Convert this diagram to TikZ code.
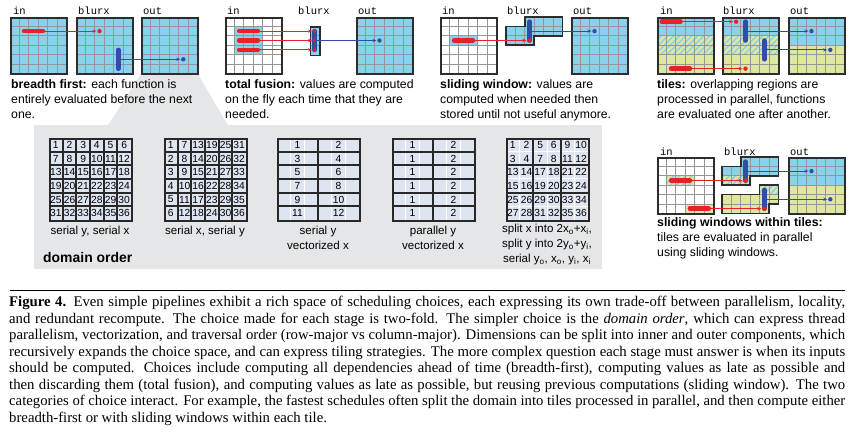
\documentclass[tikz,border=0pt]{standalone}
\usepackage{fontspec}
\setmainfont{Liberation Serif}
\setsansfont{Liberation Sans}
\setmonofont{Liberation Mono}
\usetikzlibrary{arrows.meta}
\definecolor{cblue}{RGB}{138,210,235}
\definecolor{cyellow}{RGB}{222,230,160}
\definecolor{cgrid}{RGB}{150,150,150}
\definecolor{cborder}{RGB}{45,45,45}
\definecolor{cred}{RGB}{232,32,42}
\definecolor{cdblue}{RGB}{48,78,168}
\definecolor{cpanel}{RGB}{229,230,231}
\definecolor{ccell}{RGB}{222,229,240}
\definecolor{cdark}{RGB}{40,40,40}
\tikzset{
 gridline/.style={cgrid, line width=0.9bp},
 gridbox/.style={draw=cborder, line width=1.6bp, rectangle, minimum width=56.4bp, minimum height=56.4bp, inner sep=0, anchor=north west},
 shapeborder/.style={draw=cborder, line width=1.6bp, line join=miter},
 redbar/.style={cred, line width=4.6bp, line cap=round},
 bluebar/.style={cdblue, line width=4.6bp, line cap=round},
 redlink/.style={cred, line width=1bp, -{Stealth[length=4bp,width=3.2bp]}, shorten >=0.6bp},
 bluelink/.style={cdblue, line width=1bp, -{Stealth[length=4bp,width=3.2bp]}, shorten >=0.6bp},
 reddot/.style={circle, fill=cred, inner sep=0, minimum size=4.4bp},
 bluedot/.style={circle, fill=cdblue, inner sep=0, minimum size=4.4bp},
 lbl/.style={font=\fontsize{10.5}{12}\ttfamily, anchor=base west, inner sep=0},
 desc/.style={font=\fontsize{12.3}{15}\sffamily, anchor=base west, inner sep=0},
 dgrid/.style={draw=cdark, line width=2.2bp, rectangle, minimum width=82bp, minimum height=82bp, inner sep=0, anchor=north west},
 dline/.style={cdark, line width=1.8bp},
 wline/.style={white, line width=1bp},
 num/.style={font=\fontsize{10.3}{10}\sffamily, inner sep=0, text=black},
 dlabel/.style={font=\fontsize{11.6}{14}\sffamily, anchor=base, inner sep=0},
 capline/.style={font=\fontsize{14.8}{16.45}\selectfont, anchor=base west, inner sep=0}
}
\newcommand{\glines}[2]{\foreach \i in {1,...,5}{\draw[gridline] ({#1+\i*9.4},#2) -- ++(0,56.4); \draw[gridline] (#1,{#2+\i*9.4}) -- ++(56.4,0);}}
\newcommand{\hatchrect}[4]{%
 \begin{scope}
 \clip (#1,#2) rectangle (#3,#4);
 \fill[cblue] (#1,#2) rectangle (#3,#4);
 \foreach \k in {-5,...,12}{\draw[cyellow, line width=2.4bp] ({#1+\k*6},{#4+1}) -- ++(24,-24);}
 \end{scope}}
\newcommand{\capl}[1]{\makebox[836bp][s]{#1}}
\begin{document}
\begin{tikzpicture}[x=1bp,y=-1bp]
\useasboundingbox (0,0) rectangle (858,434);
\fill[white] (0,0) rectangle (858,434);
% domain-order panel and wedge
\fill[cpanel] (141,73.4) -- (197.4,73.4) -- (228,125.5) -- (108,125.5) -- cycle;
\fill[cpanel] (34,125) rectangle (602,269);

% ---------- panel 1: breadth first
\fill[cblue] (10,17) rectangle ++(56.4,56.4);
\fill[cblue] (76,17) rectangle ++(56.4,56.4);
\fill[cblue] (141,17) rectangle ++(56.4,56.4);
\glines{10}{17}\glines{76}{17}\glines{141}{17}
\node[gridbox] (in1) at (10,17) {};
\node[gridbox] (bx1) at (76,17) {};
\node[gridbox] (out1) at (141,17) {};
\node[lbl] (lin1) at (13,15) {in};
\node[lbl] (lbx1) at (78,15) {blurx};
\node[lbl] (lout1) at (143,15) {out};
\coordinate (r1s) at (24.1,31.1); \coordinate (r1e) at (42.9,31.1);
\draw[redbar] (r1s) -- (r1e);
\node[reddot] (r1d) at (99.5,31.1) {};
\draw[redlink] (r1e) -- (r1d);
\coordinate (b1s) at (118.3,49.9); \coordinate (b1e) at (118.3,68.7); \coordinate (b1m) at (118.3,59.3);
\draw[bluebar] (b1s) -- (b1e);
\node[bluedot] (b1d) at (183.3,59.3) {};
\draw[bluelink] (b1m) -- (b1d);

% ---------- panel 2: total fusion
\fill[cblue] (234.4,26.4) rectangle (262.6,54.6);
\fill[cblue] (356,17) rectangle ++(56.4,56.4);
\fill[cblue] (309.8,26.4) rectangle (319.2,54.6);
\glines{225}{17}\glines{356}{17}
\draw[gridline] (309.8,35.8) -- (319.2,35.8);
\draw[gridline] (309.8,45.2) -- (319.2,45.2);
\node[gridbox] (in2) at (225,17) {};
\node[draw=cborder, line width=1.6bp, rectangle, minimum width=9.4bp, minimum height=28.2bp, inner sep=0, anchor=north west] (bx2) at (309.8,26.4) {};
\node[gridbox] (out2) at (356,17) {};
\node[lbl] (lin2) at (227,15) {in};
\node[lbl] (lbx2) at (298,15) {blurx};
\node[lbl] (lout2) at (358,15) {out};
\foreach \yy/\nm in {31.1/a,40.5/b,49.9/c}{
 \coordinate (r2s\nm) at (239.1,\yy); \coordinate (r2e\nm) at (257.9,\yy);
 \draw[redbar] (r2s\nm) -- (r2e\nm);
 \coordinate (r2t\nm) at (314.5,\yy);
 \draw[redlink, shorten >=2.4bp] (r2e\nm) -- (r2t\nm);
}
\coordinate (b2s) at (314.5,31.1); \coordinate (b2e) at (314.5,49.9); \coordinate (b2m) at (314.5,40.5);
\draw[bluebar] (b2s) -- (b2e);
\foreach \nm in {a,b,c}{\node[reddot, minimum size=3.6bp] (r2d\nm) at (r2t\nm) {};}
\node[bluedot] (b2d) at (379.5,40.5) {};
\draw[bluelink] (b2m) -- (b2d);

% ---------- panel 3: sliding window
\fill[cblue] (449.4,35.8) rectangle (477.6,45.2);
\fill[cblue] (571,17) rectangle ++(56.4,56.4);
\glines{440}{17}\glines{571}{17}
\begin{scope}
 \clip (524.8,17) -- (562.4,17) -- (562.4,35.8) -- (534.2,35.8) -- (534.2,45.2) -- (506,45.2) -- (506,26.4) -- (524.8,26.4) -- cycle;
 \fill[cblue] (506,17) rectangle (562.4,45.2);
 \glines{506}{17}
\end{scope}
\draw[shapeborder] (524.8,17) -- (562.4,17) -- (562.4,35.8) -- (534.2,35.8) -- (534.2,45.2) -- (506,45.2) -- (506,26.4) -- (524.8,26.4) -- cycle;
\node[gridbox] (in3) at (440,17) {};
\node[gridbox] (out3) at (571,17) {};
\node[lbl] (lin3) at (442,15) {in};
\node[lbl] (lbx3) at (507,15) {blurx};
\node[lbl] (lout3) at (573,15) {out};
\coordinate (r3s) at (454.1,40.5); \coordinate (r3e) at (472.9,40.5);
\draw[redbar] (r3s) -- (r3e);
\coordinate (b3s) at (529.5,21.7); \coordinate (b3e) at (529.5,40.5); \coordinate (b3m) at (529.5,31.1);
\draw[bluebar] (b3s) -- (b3e);
\node[reddot] (r3d) at (529.5,40.5) {};
\draw[redlink] (r3e) -- (r3d);
\node[bluedot] (b3d) at (594.5,31.1) {};
\draw[bluelink] (b3m) -- (b3d);

% ---------- panel 4: tiles
\foreach \gx in {657,722}{
 \fill[cblue] (\gx,17) rectangle ({\gx+56.4},35.8);
 \hatchrect{\gx}{35.8}{\gx+56.4}{54.6}
 \fill[cyellow] (\gx,54.6) rectangle ({\gx+56.4},73.4);
 \glines{\gx}{17}
}
\fill[cblue] (788,17) rectangle (844.4,45.2);
\fill[cyellow] (788,45.2) rectangle (844.4,73.4);
\glines{788}{17}
\node[gridbox] (in4) at (657,17) {};
\node[gridbox] (bx4) at (722,17) {};
\node[gridbox] (out4) at (788,17) {};
\node[lbl] (lin4) at (660,15) {in};
\node[lbl] (lbx4) at (723,15) {blurx};
\node[lbl] (lout4) at (790,15) {out};
\coordinate (r4s) at (661.7,21.7); \coordinate (r4e) at (680.5,21.7);
\draw[redbar] (r4s) -- (r4e);
\node[reddot] (r4d) at (736.1,21.7) {};
\draw[redlink] (r4e) -- (r4d);
\coordinate (r4s2) at (671.1,68.7); \coordinate (r4e2) at (689.9,68.7);
\draw[redbar] (r4s2) -- (r4e2);
\node[reddot] (r4d2) at (745.5,68.7) {};
\draw[redlink] (r4e2) -- (r4d2);
\coordinate (b4s) at (745.5,21.7); \coordinate (b4e) at (745.5,40.5); \coordinate (b4m) at (745.5,31.1);
\draw[bluebar] (b4s) -- (b4e);
\node[bluedot] (b4d) at (811.5,31.1) {};
\draw[bluelink] (b4m) -- (b4d);
\coordinate (b4s2) at (764.3,40.5); \coordinate (b4e2) at (764.3,59.3); \coordinate (b4m2) at (764.3,49.9);
\draw[bluebar] (b4s2) -- (b4e2);
\node[bluedot] (b4d2) at (830.3,49.9) {};
\draw[bluelink] (b4m2) -- (b4d2);

% ---------- panel 5: sliding windows within tiles
\hatchrect{666.4}{175.8}{694.6}{185.2}
\fill[cyellow] (685.2,204) rectangle (713.4,213.4);
\glines{657}{157}
\fill[cblue] (788,157) rectangle (844.4,185.2);
\fill[cyellow] (788,185.2) rectangle (844.4,213.4);
\glines{788}{157}
\begin{scope}
 \clip (740.8,157) -- (778.4,157) -- (778.4,175.8) -- (750.2,175.8) -- (750.2,185.2) -- (722,185.2) -- (722,166.4) -- (740.8,166.4) -- cycle;
 \fill[cblue] (722,157) rectangle (778.4,185.2);
 \hatchrect{722}{175.8}{750.2}{185.2}
 \glines{722}{157}
\end{scope}
\draw[shapeborder] (740.8,157) -- (778.4,157) -- (778.4,175.8) -- (750.2,175.8) -- (750.2,185.2) -- (722,185.2) -- (722,166.4) -- (740.8,166.4) -- cycle;
\begin{scope}
 \clip (759.6,185.2) -- (778.4,185.2) -- (778.4,204) -- (769,204) -- (769,213.4) -- (722,213.4) -- (722,194.6) -- (759.6,194.6) -- cycle;
 \fill[cyellow] (722,185.2) rectangle (778.4,213.4);
 \hatchrect{759.6}{185.2}{778.4}{194.6}
 \glines{722}{157}
\end{scope}
\draw[shapeborder] (759.6,185.2) -- (778.4,185.2) -- (778.4,204) -- (769,204) -- (769,213.4) -- (722,213.4) -- (722,194.6) -- (759.6,194.6) -- cycle;
\node[gridbox] (in5) at (657,157) {};
\node[gridbox] (out5) at (788,157) {};
\node[lbl] (lin5) at (660,155.3) {in};
\node[lbl] (lbx5) at (724,155.3) {blurx};
\node[lbl] (lout5) at (790,155.3) {out};
\coordinate (r5s) at (671.1,180.5); \coordinate (r5e) at (689.9,180.5);
\draw[redbar] (r5s) -- (r5e);
\coordinate (r5s2) at (689.9,208.7); \coordinate (r5e2) at (708.7,208.7);
\draw[redbar] (r5s2) -- (r5e2);
\coordinate (b5s) at (745.5,161.7); \coordinate (b5e) at (745.5,180.5); \coordinate (b5m) at (745.5,171.1);
\draw[bluebar] (b5s) -- (b5e);
\coordinate (b5s2) at (764.3,189.9); \coordinate (b5e2) at (764.3,208.7); \coordinate (b5m2) at (764.3,199.3);
\draw[bluebar] (b5s2) -- (b5e2);
\node[reddot] (r5d) at (745.5,180.5) {};
\node[reddot] (r5d2) at (764.3,208.7) {};
\draw[redlink] (r5e) -- (r5d);
\draw[redlink] (r5e2) -- (r5d2);
\node[bluedot] (b5d) at (811.5,171.1) {};
\node[bluedot] (b5d2) at (830.3,199.3) {};
\draw[bluelink] (b5m) -- (b5d);
\draw[bluelink] (b5m2) -- (b5d2);

% ---------- descriptions
\node[desc] (t1a) at (11,88.5) {\textbf{breadth first:} each function is};
\node[desc] (t1b) at (11,103.5) {entirely evaluated before the next};
\node[desc] (t1c) at (11,118.5) {one.};
\node[desc] (t2a) at (225,88.5) {\textbf{total fusion:} values are computed};
\node[desc] (t2b) at (225,103.5) {on the fly each time that they are};
\node[desc] (t2c) at (225,118.5) {needed.};
\node[desc] (t3a) at (440,88.5) {\textbf{sliding window:} values are};
\node[desc] (t3b) at (440,103.5) {computed when needed then};
\node[desc] (t3c) at (440,118.5) {stored until not useful anymore.};
\node[desc] (t4a) at (657,88.5) {\textbf{tiles:} overlapping regions are};
\node[desc] (t4b) at (657,103.5) {processed in parallel, functions};
\node[desc] (t4c) at (657,118.5) {are evaluated one after another.};
\node[desc] (t5a) at (657,226.5) {\textbf{sliding windows within tiles:}};
\node[desc] (t5b) at (657,241.5) {tiles are evaluated in parallel};
\node[desc] (t5c) at (657,256.5) {using sliding windows.};

% ---------- domain order grids
\foreach \gx in {49,164,277,392,506}{\fill[ccell] (\gx,138) rectangle ++(82,82);}
% grid 1 and 2
\foreach \gx in {49,164}{\foreach \i in {1,...,5}{
 \draw[dline] ({\gx+\i*13.667},138) -- ++(0,82);
 \draw[dline] (\gx,{138+\i*13.667}) -- ++(82,0);}}
% grid 3 and 4
\foreach \gx in {277,392}{
 \foreach \i in {1,2,4,5}{\draw[wline] ({\gx+\i*13.667},138) -- ++(0,82);}
 \draw[dline] ({\gx+41},138) -- ++(0,82);
 \foreach \i in {1,...,5}{\draw[dline] (\gx,{138+\i*13.667}) -- ++(82,0);}}
% grid 5
\foreach \i in {1,3,5}{\draw[wline] ({506+\i*13.667},138) -- ++(0,82); \draw[wline] (506,{138+\i*13.667}) -- ++(82,0);}
\foreach \i in {2,4}{\draw[dline] ({506+\i*13.667},138) -- ++(0,82); \draw[dline] (506,{138+\i*13.667}) -- ++(82,0);}
\node[dgrid] (dg1) at (49,138) {};
\node[dgrid] (dg2) at (164,138) {};
\node[dgrid] (dg3) at (277,138) {};
\node[dgrid] (dg4) at (392,138) {};
\node[dgrid] (dg5) at (506,138) {};
\foreach \r in {0,...,5}{\foreach \q in {0,...,5}{
 \pgfmathtruncatemacro{\na}{\r*6+\q+1}
 \pgfmathtruncatemacro{\nb}{\q*6+\r+1}
 \pgfmathtruncatemacro{\ne}{(floor(\r/2)*3+floor(\q/2))*4+mod(\r,2)*2+mod(\q,2)+1}
 \node[num] (na-\r-\q) at ({49+(\q+0.5)*13.667},{138+(\r+0.5)*13.667}) {\na};
 \node[num] (nb-\r-\q) at ({164+(\q+0.5)*13.667},{138+(\r+0.5)*13.667}) {\nb};
 \node[num] (ne-\r-\q) at ({506+(\q+0.5)*13.667},{138+(\r+0.5)*13.667}) {\ne};
}
 \pgfmathtruncatemacro{\nc}{2*\r+1}
 \pgfmathtruncatemacro{\nd}{2*\r+2}
 \node[num] (nc-\r-a) at ({277+1.5*13.667},{138+(\r+0.5)*13.667}) {\nc};
 \node[num] (nc-\r-b) at ({277+4.5*13.667},{138+(\r+0.5)*13.667}) {\nd};
 \node[num] (nd-\r-a) at ({392+1.5*13.667},{138+(\r+0.5)*13.667}) {1};
 \node[num] (nd-\r-b) at ({392+4.5*13.667},{138+(\r+0.5)*13.667}) {2};
}
\node[dlabel] (dl1) at (90,235) {serial y, serial x};
\node[dlabel] (dl2) at (205,235) {serial x, serial y};
\node[dlabel] (dl3a) at (318,235) {serial y};
\node[dlabel] (dl3b) at (318,250) {vectorized x};
\node[dlabel] (dl4a) at (433,235) {parallel y};
\node[dlabel] (dl4b) at (433,250) {vectorized x};
\node[dlabel] (dl5a) at (547,233) {split x into 2x\textsubscript{o}+x\textsubscript{i},};
\node[dlabel] (dl5b) at (547,248) {split y into 2y\textsubscript{o}+y\textsubscript{i},};
\node[dlabel] (dl5c) at (547,263) {serial y\textsubscript{o}, x\textsubscript{o}, y\textsubscript{i}, x\textsubscript{i}};
\node[font=\fontsize{14}{16}\sffamily\bfseries, anchor=base west, inner sep=0] (dom) at (43,263) {domain order};

% ---------- caption
\draw[line width=1bp] (10,290.5) -- (845,290.5);
\node[capline] (c1) at (9,307) {\capl{\textbf{Figure 4.}\enspace Even simple pipelines exhibit a rich space of scheduling choices, each expressing its own trade-off between parallelism, locality,}};
\node[capline] (c2) at (9,323.45) {\capl{and redundant recompute. The choice made for each stage is two-fold. The simpler choice is the \emph{domain order}, which can express thread}};
\node[capline] (c3) at (9,339.9) {\capl{parallelism, vectorization, and traversal order (row-major vs column-major). Dimensions can be split into inner and outer components, which}};
\node[capline] (c4) at (9,356.35) {\capl{recursively expands the choice space, and can express tiling strategies. The more complex question each stage must answer is when its inputs}};
\node[capline] (c5) at (9,372.8) {\capl{should be computed. Choices include computing all dependencies ahead of time (breadth-first), computing values as late as possible and}};
\node[capline] (c6) at (9,389.25) {\capl{then discarding them (total fusion), and computing values as late as possible, but reusing previous computations (sliding window). The two}};
\node[capline] (c7) at (9,405.7) {\capl{categories of choice interact. For example, the fastest schedules often split the domain into tiles processed in parallel, and then compute either}};
\node[capline] (c8) at (9,422.15) {breadth-first or with sliding windows within each tile.};
\end{tikzpicture}
\end{document}
